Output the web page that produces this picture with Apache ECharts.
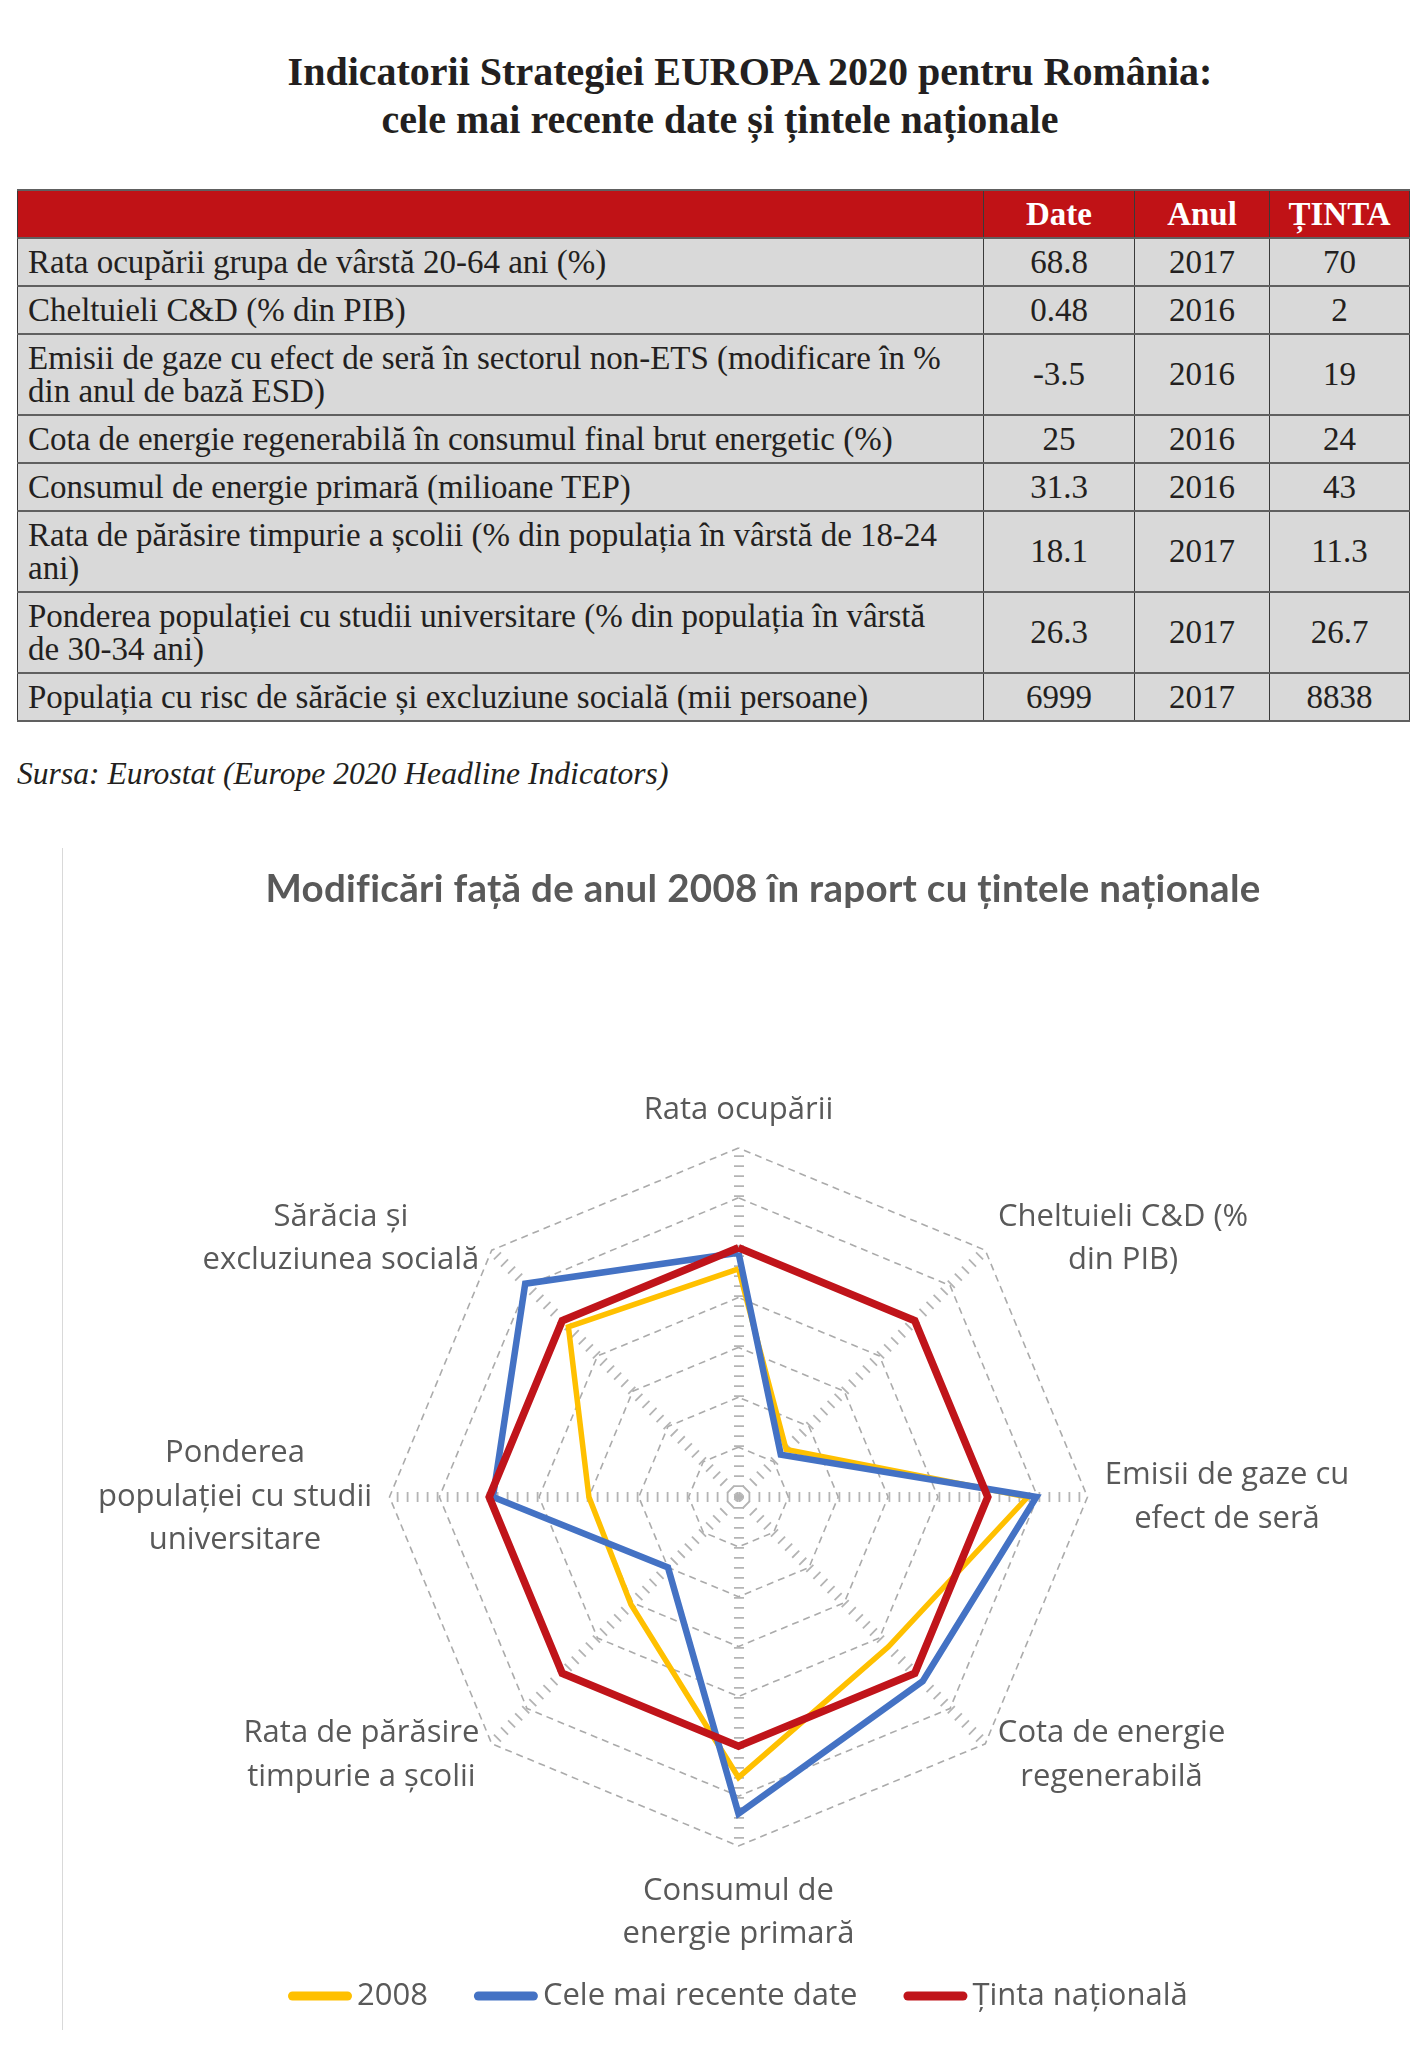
<!DOCTYPE html>
<html><head><meta charset="utf-8">
<script src="https://cdn.jsdelivr.net/npm/echarts@6/dist/echarts.min.js"></script>
<style>
html,body{margin:0;padding:0;background:#fff;}
body{width:1427px;height:2058px;position:relative;overflow:hidden;font-family:"Liberation Serif",serif;color:#231f20;}
.t{position:absolute;white-space:nowrap;font-weight:bold;font-size:40px;line-height:40px;transform:translateX(-50%);}
#tbl{position:absolute;left:17px;top:189px;width:1392px;border-collapse:collapse;table-layout:fixed;font-size:33px;line-height:33px;}
#tbl td{padding:0 10px;border-top:2.5px solid #606060;border-bottom:2.5px solid #606060;border-left:1.5px solid #3a3a3a;border-right:1.5px solid #3a3a3a;background:#d9d9d9;white-space:pre-line;vertical-align:middle;}
#tbl tr.h td{background:#c01216;color:#fff;font-weight:bold;text-align:center;}
#tbl td.n{text-align:center;}
#src{position:absolute;left:17px;top:758px;font-style:italic;font-size:31.6px;line-height:32px;white-space:nowrap;}
#ctitle{position:absolute;top:868px;left:763px;transform:translateX(-50%);font-family:Lato,sans-serif;font-weight:bold;font-size:38.5px;line-height:38.5px;letter-spacing:0.3px;color:#595959;white-space:nowrap;}
#vline{position:absolute;left:62px;top:848px;width:1px;height:1182px;background:#d9d9d9;}
#chart{position:absolute;left:0;top:820px;width:1427px;height:1238px;}
</style></head>
<body>
<div class="t" id="t1" style="left:750px;top:52px;">Indicatorii Strategiei EUROPA 2020 pentru România:</div>
<div class="t" id="t2" style="left:720px;top:100px;">cele mai recente date și țintele naționale</div>
<table id="tbl"></table>
<div id="src">Sursa: Eurostat (Europe 2020 Headline Indicators)</div>
<div id="vline"></div>
<div id="chart"></div>
<div id="ctitle">Modificări față de anul 2008 în raport cu țintele naționale</div>
<script>
// ---------- table data ----------
const tableHeaders = ['', 'Date', 'Anul', 'ȚINTA'];
const rowLabels = [
  'Rata ocupării grupa de vârstă 20-64 ani (%)',
  'Cheltuieli C&D (% din PIB)',
  'Emisii de gaze cu efect de seră în sectorul non-ETS (modificare în %\ndin anul de bază ESD)',
  'Cota de energie regenerabilă în consumul final brut energetic (%)',
  'Consumul de energie primară (milioane TEP)',
  'Rata de părăsire timpurie a școlii (% din populația în vârstă de 18-24\nani)',
  'Ponderea populației cu studii universitare (% din populația în vârstă\nde 30-34 ani)',
  'Populația cu risc de sărăcie și excluziune socială (mii persoane)'
];
const dateValues = ['68.8', '0.48', '-3.5', '25', '31.3', '18.1', '26.3', '6999'];
const yearValues = ['2017', '2016', '2016', '2016', '2016', '2017', '2017', '2017'];
const targetValues = ['70', '2', '19', '24', '43', '11.3', '26.7', '8838'];

// ---------- radar data (clockwise from top) ----------
const axisLabels = [
  'Rata ocupării',
  'Cheltuieli C&D (%\ndin PIB)',
  'Emisii de gaze cu\nefect de seră',
  'Cota de energie\nregenerabilă',
  'Consumul de\nenergie primară',
  'Rata de părăsire\ntimpurie a școlii',
  'Ponderea\npopulației cu studii\nuniversitare',
  'Sărăcia și\nexcluziunea socială'
];
const seriesNames = ['2008', 'Cele mai recente date', 'Ținta națională'];
const values2008 = [91.5, 27, 116, 85, 112.5, 61, 60, 96.5];
const valuesLatest = [98, 24, 119.5, 104.5, 127, 40, 98.5, 121];
const valuesTarget = [100, 100, 100, 100, 100, 100, 100, 100];
const axisMax = 140;
const axisInterval = 20;

// ---------- build table ----------
const colW = [966, 151, 135, 140];
const rowH = [48, 48, 48, 81, 48, 48, 81, 81, 48];
const tbl = document.getElementById('tbl');
const cg = document.createElement('colgroup');
colW.forEach(w => { const c = document.createElement('col'); c.style.width = w + 'px'; cg.appendChild(c); });
tbl.appendChild(cg);
const hr = document.createElement('tr'); hr.className = 'h'; hr.style.height = rowH[0] + 'px';
tableHeaders.forEach(h => { const td = document.createElement('td'); td.textContent = h; hr.appendChild(td); });
tbl.appendChild(hr);
rowLabels.forEach((lab, i) => {
  const tr = document.createElement('tr'); tr.style.height = rowH[i + 1] + 'px';
  [lab, dateValues[i], yearValues[i], targetValues[i]].forEach((v, j) => {
    const td = document.createElement('td'); td.textContent = v; if (j > 0) td.className = 'n'; tr.appendChild(td);
  });
  tbl.appendChild(tr);
});

// ---------- radar ----------
const labelSize = 31;
const labelFont = labelSize + 'px "Open Sans"';
const mctx = document.createElement('canvas').getContext('2d');
mctx.font = labelFont;
const rich = { sp: { fontSize: 2, lineHeight: 7, height: 7 } };
axisLabels.forEach((s, i) => {
  const w = Math.max(...s.split('\n').map(l => mctx.measureText(l).width));
  rich['l' + i] = { width: Math.ceil(w) + 2, align: 'center', lineHeight: 43.5, fontSize: labelSize, fontFamily: 'Open Sans', color: '#595959' };
});
// ECharts places indicators counter-clockwise; reorder to get clockwise layout
const order = [0, 7, 6, 5, 4, 3, 2, 1];
const reorder = arr => order.map(i => arr[i]);

const chart = echarts.init(document.getElementById('chart'), null, { renderer: 'canvas' });
chart.setOption({
  animation: false,
  radar: {
    center: [738.5, 677],
    radius: 349,
    startAngle: 90,
    splitNumber: axisMax / axisInterval,
    shape: 'polygon',
    axisNameGap: 16,
    indicator: order.map(i => ({ name: axisLabels[i], min: 0, max: axisMax })),
    axisName: {
      color: '#595959', fontFamily: 'Open Sans', fontSize: labelSize,
      formatter: function (name) {
        const i = axisLabels.indexOf(name);
        const lines = name.split('\n').map(l => '{l' + i + '|' + l + '}');
        // bottom label sits a little further from the outer ring
        if (i === 4) lines.unshift('{sp| }');
        return lines.join('\n');
      },
      rich: rich
    },
    splitLine: { lineStyle: { color: '#ababab', width: 1.6, type: [7, 5] } },
    splitArea: { show: false },
    axisLine: { lineStyle: { color: '#b4b4b4', width: 10, type: [1.8, 8.2], cap: 'butt' } }
  },
  legend: {
    left: 283, top: 1155,
    itemWidth: 64, itemHeight: 9, itemGap: 46,
    icon: 'path://M4.5,0 L59.5,0 A4.5,4.5 0 0 1 59.5,9 L4.5,9 A4.5,4.5 0 0 1 4.5,0 Z',
    textStyle: { fontFamily: 'Open Sans', fontSize: labelSize, color: '#595959', lineHeight: 32 },
    data: seriesNames,
    selectedMode: false
  },
  series: [{
    type: 'radar',
    symbol: 'none',
    emphasis: { disabled: true },
    data: [
      { name: seriesNames[0], value: reorder(values2008), itemStyle: { color: '#FFC000' }, lineStyle: { color: '#FFC000', width: 5.5, join: 'miter' } },
      { name: seriesNames[1], value: reorder(valuesLatest), itemStyle: { color: '#4472C4' }, lineStyle: { color: '#4472C4', width: 6.5, join: 'miter' } },
      { name: seriesNames[2], value: reorder(valuesTarget), itemStyle: { color: '#C0141A' }, lineStyle: { color: '#C0141A', width: 7.5, join: 'miter' } }
    ]
  }]
});
</script>
</body></html>
